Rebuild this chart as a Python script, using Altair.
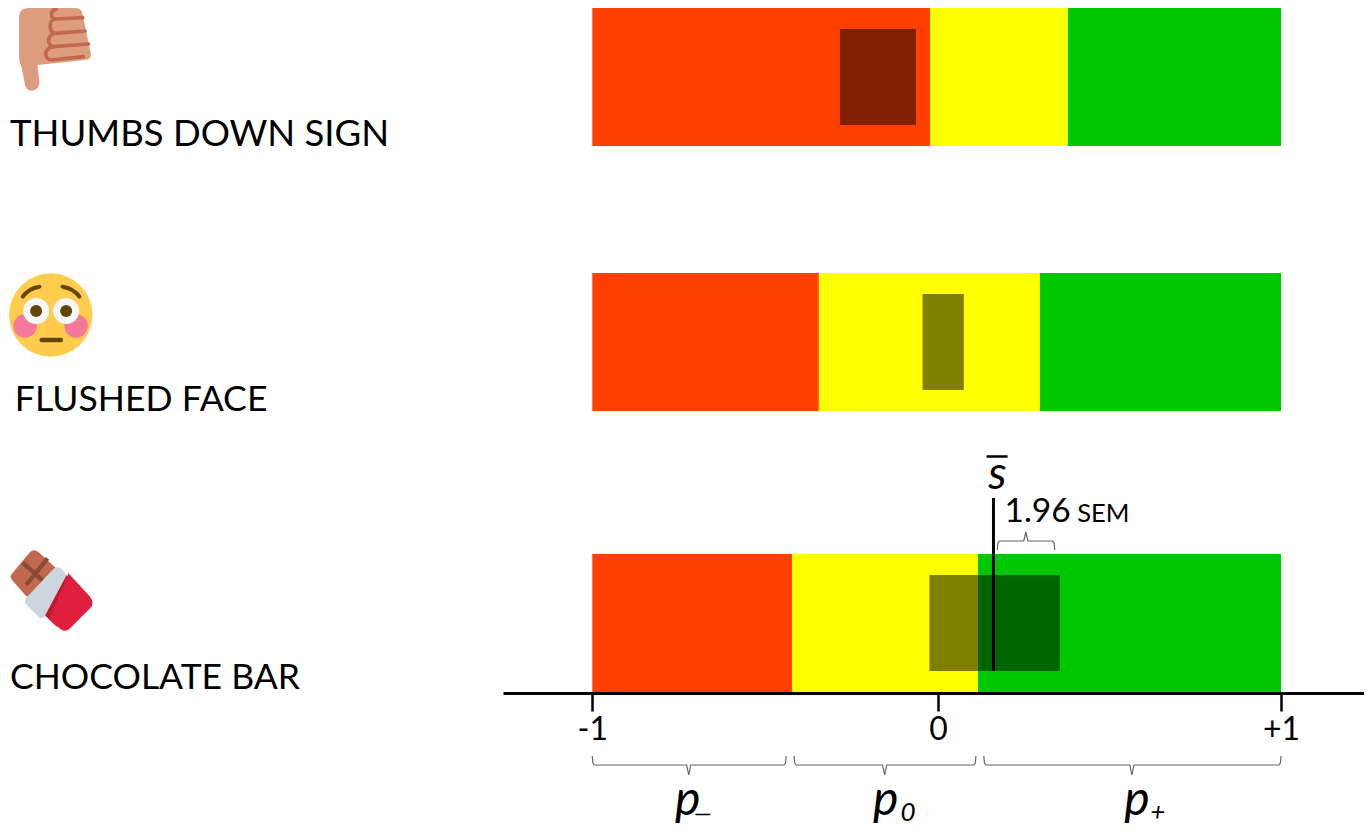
import base64
import altair as alt
import pandas as pd

FONT = "Lato"

# ---- data ----
rows = ["THUMBS DOWN SIGN", "FLUSHED FACE", "CHOCOLATE BAR"]
red_end = [-0.019, -0.342, -0.420]      # p- boundary
yellow_end = [0.381, 0.300, 0.120]      # p0 boundary
ci_low = [-0.281, -0.041, -0.021]
ci_high = [-0.060, 0.079, 0.358]
mean_example = 0.165
tick_values = [-1, 0.004, 1]   # the drawn zero tick sits just right of the mid-point

# layout of the three bands, in page pixels
band_top = [8, 273, 554]
band_h = 138
ci_inset = 21

RED, YELLOW, GREEN = "#FF4000", "#FFFF00", "#00C800"

XD = [(503 - 936.65) / 344.35, (1364 - 936.65) / 344.35]
x_s = alt.Scale(domain=XD, range=[0, 861], nice=False, zero=False)
y_s = alt.Scale(domain=[8, 693], range=[0, 685], nice=False, zero=False)
AX = alt.Axis(
    values=tick_values, title=None, grid=False,
    labelExpr="datum.value < -0.5 ? '-1' : datum.value > 0.5 ? '+1' : '0'",
    domainColor="black", domainWidth=3, tickColor="black", tickWidth=2.5, tickSize=18,
    labelFont=FONT, labelFontSize=32, labelColor="black", labelPadding=3, labelFlush=False)
X = lambda f="x": alt.X(f"{f}:Q", scale=x_s, axis=AX)
Y = lambda f="y": alt.Y(f"{f}:Q", scale=y_s, axis=None)

seg = []
for i, r in enumerate(rows):
    t = band_top[i]
    for a, b, c in [(-1, red_end[i], RED), (red_end[i], yellow_end[i], YELLOW), (yellow_end[i], 1, GREEN)]:
        seg.append(dict(row=r, x=a, x2=b, y=t, y2=t + band_h, c=c))
seg = pd.DataFrame(seg)
bars = alt.Chart(seg).mark_rect().encode(
    x=X(), x2="x2:Q", y=Y(), y2="y2:Q",
    color=alt.Color("c:N", scale=None),
)

ci = pd.DataFrame(dict(x=ci_low, x2=ci_high,
                       y=[t + ci_inset for t in band_top],
                       y2=[t + band_h - ci_inset for t in band_top]))
ci_marks = alt.Chart(ci).mark_rect(color="black", opacity=0.5).encode(x=X(), x2="x2:Q", y=Y(), y2="y2:Q")

mean_df = pd.DataFrame(dict(x=[mean_example], y=[498], y2=[671]))
mean_rule = alt.Chart(mean_df).mark_rule(color="black", strokeWidth=3).encode(x=X(), y=Y(), y2="y2:Q")
bar_df = pd.DataFrame(dict(x=[0.145], x2=[0.206], y=[456.5]))
s_bar = alt.Chart(bar_df).mark_rule(color="black", strokeWidth=2.5).encode(x=X(), x2="x2:Q", y=Y())


def brace(name, l, r, c, tip, bar, stem):
    """Curly bracket; tips at y=tip, spine at y=bar, centre stem reaching y=stem."""
    d = 0.006
    s = 1 if bar > tip else -1
    pts = [(l, tip), (l + d * .3, bar - s * 2), (l + d, bar), (c - d, bar), (c, stem),
           (c + d, bar), (r - d, bar), (r - d * .3, bar - s * 2), (r, tip)]
    return [dict(b=name, o=i, x=p[0], y=p[1]) for i, p in enumerate(pts)]


br = (brace("n", -1.0, -0.437, -0.720, 756, 765, 775)
      + brace("z", -0.414, 0.114, -0.151, 756, 765, 775)
      + brace("p", 0.137, 1.0, 0.567, 756, 765, 775)
      + brace("sem", 0.176, 0.343, 0.259, 550, 541, 532))
braces = alt.Chart(pd.DataFrame(br)).mark_line(color="#666666", strokeWidth=1.2).encode(
    x=X(), y=Y(), detail="b:N", order="o:Q")


def label(txt, x, y, size, style="normal", align="left"):
    return alt.Chart(pd.DataFrame(dict(t=[txt], x=[x], y=[y]))).mark_text(
        font=FONT, fontSize=size, fontStyle=style, align=align, baseline="alphabetic", color="black"
    ).encode(x=X(), y=Y(), text="t:N")


texts = [
    label(rows[0], -2.691, 146, 36.5),
    label(rows[1], -2.677, 411, 35.6),
    label(rows[2], -2.691, 689, 35.5),
    label("s", 0.150, 489, 46, "italic"),
    label("1.96", 0.197, 522, 33.5),
    label("SEM", 0.408, 522, 25.5),
    label("p", -0.760, 815, 48, "italic"),
    label("\u2014", -0.705, 821, 24, "italic"),
    label("p", -0.185, 815, 48, "italic"),
    label("0", -0.105, 821, 26, "italic"),
    label("p", 0.545, 815, 48, "italic"),
    label("+", 0.620, 821, 26, "italic"),
]

thumb = """<svg xmlns='http://www.w3.org/2000/svg' width='390' height='300' viewBox='0 0 390 300'>
<path fill='#DD9C7D' d='M57 50Q57 25 85 24L225 24Q245 24 248 45L272 160Q275 178 255 180L112 195L118 245Q118 270 95 272Q78 272 75 255L65 205Q57 190 57 170Z'/>
<g fill='none' stroke='#C1694F' stroke-width='11' stroke-linecap='round'>
<path d='M168 28C150 30 150 55 165 57L248 53'/>
<path d='M165 57C145 60 145 95 165 100L255 93'/>
<path d='M165 100C140 105 140 135 160 140L265 132'/>
<path d='M160 140C130 145 130 178 155 180L250 170'/></g></svg>"""
face = """<svg xmlns='http://www.w3.org/2000/svg' width='330' height='300' viewBox='0 0 330 300'>
<circle cx='152' cy='150' r='125' fill='#FFCC4D'/>
<circle cx='75' cy='183' r='35' fill='#F4779C'/><circle cx='228' cy='183' r='35' fill='#F4779C'/>
<circle cx='108' cy='138' r='39' fill='#F5F8FA'/><circle cx='198' cy='138' r='39' fill='#F5F8FA'/>
<circle cx='108' cy='138' r='18' fill='#664500'/><circle cx='198' cy='138' r='18' fill='#664500'/>
<g fill='none' stroke='#664500' stroke-linecap='round'>
<path stroke-width='12' d='M68 95Q85 70 118 65'/><path stroke-width='12' d='M187 65Q220 70 238 95'/>
<path stroke-width='14' d='M125 225L182 225'/></g></svg>"""
choc = """<svg xmlns='http://www.w3.org/2000/svg' width='330' height='300' viewBox='0 0 330 300'>
<path fill='#C1694F' d='M88 38Q100 25 115 36L165 82Q175 92 165 105L95 170Q85 175 75 165L38 122Q25 110 38 98Z'/>
<g fill='none' stroke='#8A4B38' stroke-width='13'><path d='M68 68L128 122'/><path d='M142 55L78 135'/></g>
<path fill='#BE1931' d='M198 105L133 225L170 260L240 160Z'/>
<path fill='#DF1F3D' d='M205 100L270 170Q285 190 270 205L210 265Q195 280 178 265L147 238Z'/>
<path fill='#CCD6DD' d='M162 85Q172 78 182 85L195 98Q200 104 196 112L134 228Q126 240 115 230L80 195Q68 183 80 172Z'/></svg>"""


def uri(svg):
    return "data:image/svg+xml;base64," + base64.b64encode(svg.encode()).decode()


def icon(svg, x, y, w, h):
    return alt.Chart(pd.DataFrame(dict(x=[x], y=[y], u=[uri(svg)]))).mark_image(width=w, height=h).encode(
        x=X(), y=Y(), url="u:N")


icons = [icon(thumb, -2.531, 50, 130, 100), icon(face, -2.560, 315, 110, 100), icon(choc, -2.560, 590, 110, 100)]

chart = alt.layer(bars, ci_marks, mean_rule, s_bar, braces, *texts, *icons).properties(
    width=861, height=685, padding={"left": 495, "top": 0, "right": 0, "bottom": 134},
    autosize=alt.AutoSizeParams(type="none"),
).configure_view(stroke=None)

chart.save("out.html", embed_options={"renderer": "svg", "actions": False})
